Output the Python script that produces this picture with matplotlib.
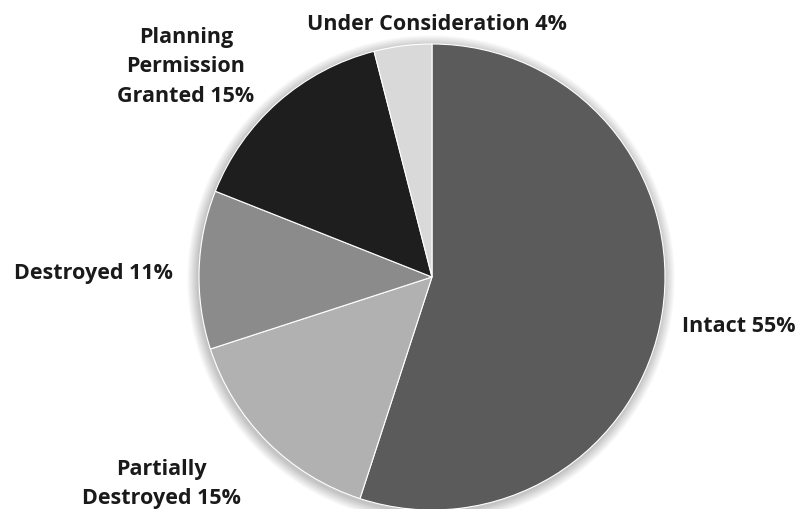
import matplotlib
matplotlib.use("Agg")
import matplotlib.pyplot as plt
from matplotlib.patches import Circle

labels = ["Intact", "Partially\nDestroyed", "Destroyed", "Planning\nPermission\nGranted", "Under Consideration"]
values = [55, 15, 11, 15, 4]
colors = ["#5b5b5b", "#b1b1b1", "#8b8b8b", "#1e1e1e", "#d9d9d9"]
label_pos = [(739, 326), (161, 484), (93, 274), (186, 67), (437, 25)]

W, H = 800, 510
fig = plt.figure(figsize=(8, 5.1), dpi=100)
ax = fig.add_axes([0, 0, 1, 1])
ax.set_xlim(0, W)
ax.set_ylim(0, H)
ax.set_aspect("equal")
ax.axis("off")

cx, cy, r = 432, H - 278, 233

# soft shadow
for k in range(12, 0, -1):
    ax.add_patch(Circle((cx - 1, cy - 2), r + k * 0.9, color="black", alpha=0.02, lw=0, zorder=0))

ax.pie(values, colors=colors, startangle=90, counterclock=False,
       center=(cx, cy), radius=r, frame=True,
       wedgeprops=dict(edgecolor="white", linewidth=0.8))
ax.set_xlim(0, W)
ax.set_ylim(0, H)
ax.axis("off")

total = sum(values)
for lab, v, (x, y) in zip(labels, values, label_pos):
    ax.text(x, H - y, f"{lab} {round(100 * v / total)}%", ha="center", va="center",
            fontsize=15.5, fontweight="bold", family="Open Sans", color="#1a1a1a",
            linespacing=1.5)

fig.savefig("out.png", dpi=100)
